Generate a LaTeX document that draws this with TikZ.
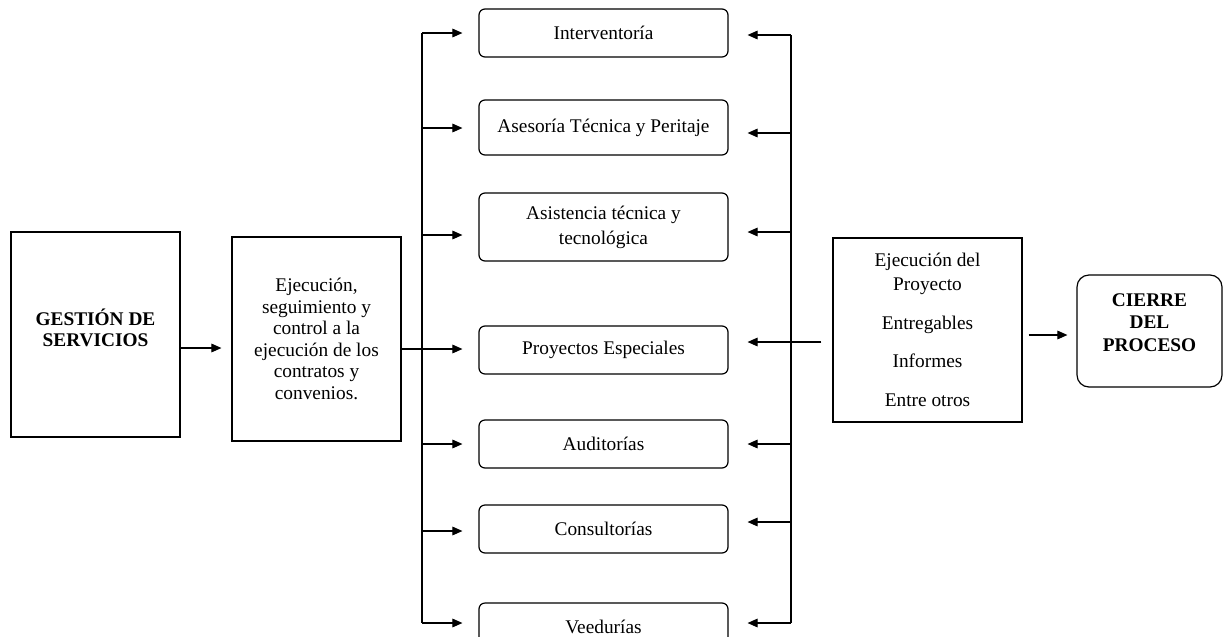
\documentclass[tikz,border=0pt]{standalone}
\usepackage{fontspec}
\setmainfont{Liberation Serif}
\usetikzlibrary{arrows.meta}
\begin{document}
\begin{tikzpicture}[x=0.75pt,y=-0.75pt,
  txt/.style={align=center, font=\fontsize{14.5}{17}\selectfont},
  box/.style={draw=black, line width=0.9pt, inner sep=0pt, txt},
  rbox/.style={box, rounded corners=4.5pt, minimum width=186.75pt, minimum height=36pt},
  link/.style={line width=0.8pt},
  arr/.style={link, -{Triangle[length=7.5pt,width=6.5pt]}},
]
\clip (0,0) rectangle (1224,636);
\fill[white] (0,0) rectangle (1224,636);

% left-hand process boxes
\node[box, minimum width=126.75pt, minimum height=153.75pt,
  label={[txt, font=\fontsize{14.5}{15.75}\selectfont\bfseries, yshift=5.25pt]center:{GESTIÓN DE\\SERVICIOS}}]
  (gest) at (95.5,334.5) {};
\node[box, minimum width=126.75pt, minimum height=153pt,
  font=\fontsize{14.5}{16.2}\selectfont]
  (ejec) at (316.5,339) {Ejecución,\\seguimiento y\\control a la\\ejecución de los\\contratos y\\convenios.};

% service types
\node[rbox] (interv) at (603.5,33) {Interventoría};
\node[rbox, minimum height=41.25pt] (ases) at (603.5,127.5) {Asesoría Técnica y Peritaje};
\node[rbox, minimum height=51pt, font=\fontsize{14.5}{18.75}\selectfont] (asist) at (603.5,227) {Asistencia técnica y\\tecnológica};
\node[rbox] (proy) at (603.5,350) {Proyectos Especiales};
\node[rbox] (audit) at (603.5,444) {Auditorías};
\node[rbox] (consult) at (603.5,529) {Consultorías};
\node[rbox] (veed) at (603.5,627) {Veedurías};

% outputs and closing
\node[box, minimum width=141.75pt, minimum height=138pt,
  font=\fontsize{14.5}{18}\selectfont]
  (ejp) at (927.5,330) {Ejecución del\\Proyecto\\[11pt]Entregables\\[11pt]Informes\\[11pt]Entre otros};
\node[box, rounded corners=9pt, minimum width=108.75pt, minimum height=84pt,
  label={[txt, font=\fontsize{14.5}{17}\selectfont\bfseries, yshift=6.4pt]center:{CIERRE\\DEL\\PROCESO}}]
  (cierre) at (1149.5,331) {};

% distribution bus (left)
\coordinate (lb1) at (422,33);
\coordinate (lb2) at (422,128);
\coordinate (lb3) at (422,235);
\coordinate (lb4) at (422,349);
\coordinate (lb5) at (422,444);
\coordinate (lb6) at (422,531);
\coordinate (lb7) at (422,623);
% return bus (right)
\coordinate (rb1) at (791,35);
\coordinate (rb2) at (791,133);
\coordinate (rb3) at (791,232);
\coordinate (rb4) at (791,342);
\coordinate (rb5) at (791,444);
\coordinate (rb6) at (791,522);
\coordinate (rb7) at (791,623);
\coordinate (g1) at (0,348);
\coordinate (c1) at (0,335);

\draw[link] (lb1) -- (lb7);
\draw[link] (rb1) -- (rb7);

\draw[arr, shorten >=7.5pt] (gest.east |- g1) -- (ejec.west |- g1);
\draw[arr, shorten >=12pt] (ejec.east |- lb4) -- (proy.west |- lb4);
\foreach \b/\c in {interv/lb1, ases/lb2, asist/lb3, audit/lb5, consult/lb6, veed/lb7}
  \draw[arr, shorten >=12pt] (\c) -- (\b.west |- \c);
\foreach \b/\c in {interv/rb1, ases/rb2, asist/rb3, audit/rb5, consult/rb6, veed/rb7}
  \draw[arr, shorten >=14.25pt] (\c) -- (\b.east |- \c);
\draw[arr, shorten <=8.25pt, shorten >=14.25pt] (ejp.west |- rb4) -- (proy.east |- rb4);
\draw[arr, shorten <=4.5pt, shorten >=6.75pt] (ejp.east |- c1) -- (cierre.west |- c1);
\end{tikzpicture}
\end{document}
